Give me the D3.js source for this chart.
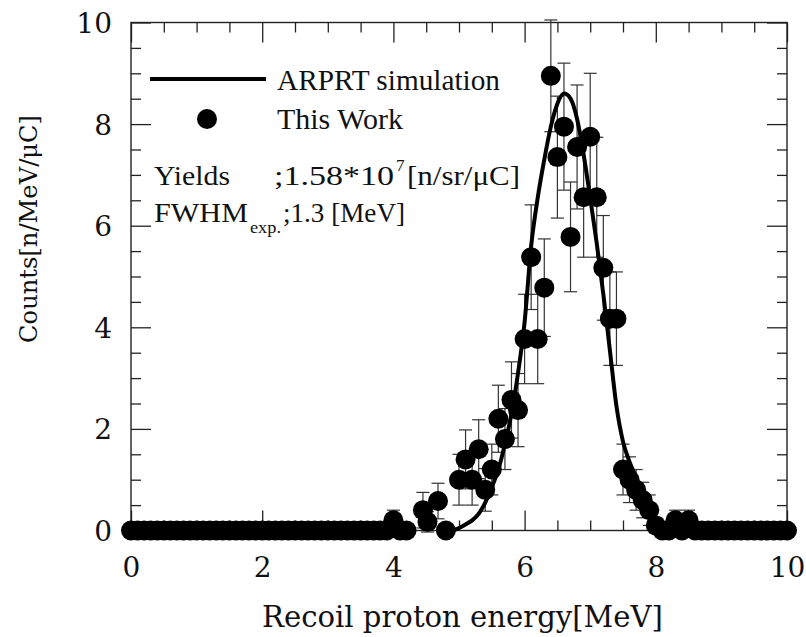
<!DOCTYPE html>
<html><head><meta charset="utf-8">
<script src="https://cdn.jsdelivr.net/npm/d3@7/dist/d3.min.js"></script>
<style>body{margin:0;background:#fff}svg{display:block}</style>
</head><body>
<svg id="c" width="806" height="637"></svg>
<script>
// ---- data ----
const energy = [0.0,0.1,0.2,0.3,0.4,0.5,0.6,0.7,0.8,0.9,1.0,1.1,1.2,1.3,1.4,1.5,1.6,1.7,1.8,1.9,
  2.0,2.1,2.2,2.3,2.4,2.5,2.6,2.7,2.8,2.9,3.0,3.1,3.2,3.3,3.4,3.5,3.6,3.7,3.8,3.9,
  4.0,4.1,4.2,4.45,4.52,4.68,4.8,5.0,5.1,5.2,5.3,5.4,5.5,5.6,5.7,5.8,5.9,
  6.0,6.1,6.2,6.3,6.4,6.5,6.6,6.7,6.8,6.9,7.0,7.1,7.2,7.3,7.4,7.5,7.6,7.7,7.8,7.9,
  8.0,8.1,8.2,8.3,8.4,8.5,8.6,8.7,8.8,8.9,9.0,9.1,9.2,9.3,9.4,9.5,9.6,9.7,9.8,9.9,10.0];
const counts = [0,0,0,0,0,0,0,0,0,0,0,0,0,0,0,0,0,0,0,0,
  0,0,0,0,0,0,0,0,0,0,0,0,0,0,0,0,0,0,0,0,
  0.2,0,0,0.4,0.17,0.58,0,1.0,1.4,1.0,1.6,0.8,1.2,2.2,1.8,2.57,2.37,
  3.77,5.38,3.77,4.78,8.95,7.35,7.95,5.78,7.55,6.56,7.75,6.56,5.17,4.17,4.17,1.2,1.0,0.8,0.6,0.4,
  0.1,0,0,0.2,0,0.2,0,0,0,0,0,0,0,0,0,0,0,0,0,0,0];
const errors = [0,0,0,0,0,0,0,0,0,0,0,0,0,0,0,0,0,0,0,0,
  0,0,0,0,0,0,0,0,0,0,0,0,0,0,0,0,0,0,0,0,
  0.2,0,0,0.35,0.2,0.35,0,0.5,0.58,0.5,0.58,0.42,0.5,0.66,0.6,0.75,0.72,
  0.88,1.03,0.88,0.96,1.1,1.2,1.25,1.08,1.22,1.18,1.25,1.18,1.03,0.92,0.92,0.5,0.45,0.4,0.35,0.3,
  0.15,0,0,0.2,0,0.2,0,0,0,0,0,0,0,0,0,0,0,0,0,0,0];

const simEnergy = [4.8,4.9,5.0,5.1,5.2,5.3,5.4,5.5,5.6,5.7,5.8,5.9,6.0,6.1,6.2,6.3,6.4,6.5,6.6,
  6.7,6.8,6.9,7.0,7.1,7.2,7.3,7.4,7.5,7.6,7.7,7.8,7.9,8.0,8.1];
const simCounts = [0,0,0.05,0.12,0.2,0.33,0.55,0.85,1.2,1.7,2.3,3.1,4.1,5.6,6.55,7.3,7.95,8.4,8.6,
  8.5,8.1,7.4,6.55,5.65,4.65,3.55,2.45,1.75,1.35,1.05,0.7,0.37,0.05,0];

const xMajor = [0,2,4,6,8,10];
const yMajor = [0,2,4,6,8,10];
const minorTicks = [0.5,1,1.5,2.5,3,3.5,4.5,5,5.5,6.5,7,7.5,8.5,9,9.5];

const xTitle = "Recoil proton energy[MeV]";
const yTitle = "Counts[n/MeV/\u03BCC]";
const legendLine = "ARPRT simulation";
const legendDots = "This Work";

// ---- layout ----
const L = 131, R = 787, T = 22.5, B = 530.5;
const svg = d3.select("#c");
const x = d3.scaleLinear().domain([0,10]).range([L,R]);
const y = d3.scaleLinear().domain([0,10]).range([B,T]);
const serif = "'DejaVu Serif', serif";
const times = "'Liberation Serif', 'Times New Roman', serif";
const axisCol = "#222";

function styleAxis(g){
  g.select(".domain").remove();
  g.selectAll("line").attr("stroke", axisCol).attr("stroke-width", 1.3);
}
// bottom
svg.append("g").attr("transform",`translate(0,${B})`)
  .call(d3.axisBottom(x).tickValues(minorTicks).tickSize(-10).tickFormat("")).call(styleAxis);
const gb = svg.append("g").attr("transform",`translate(0,${B})`)
  .call(d3.axisBottom(x).tickValues(xMajor).tickSize(-20).tickFormat(d3.format("d"))).call(styleAxis);
gb.selectAll("text").attr("y", 46).attr("dy", null).attr("font-family", serif)
  .attr("font-size", 28).attr("fill", "#111");
// top
svg.append("g").attr("transform",`translate(0,${T})`)
  .call(d3.axisTop(x).tickValues(minorTicks).tickSize(-10).tickFormat("")).call(styleAxis);
svg.append("g").attr("transform",`translate(0,${T})`)
  .call(d3.axisTop(x).tickValues(xMajor).tickSize(-20).tickFormat("")).call(styleAxis);
// left
svg.append("g").attr("transform",`translate(${L},0)`)
  .call(d3.axisLeft(y).tickValues(minorTicks).tickSize(-10).tickFormat("")).call(styleAxis);
const gl = svg.append("g").attr("transform",`translate(${L},0)`)
  .call(d3.axisLeft(y).tickValues(yMajor).tickSize(-20).tickFormat(d3.format("d"))).call(styleAxis);
gl.selectAll("text").attr("x", -19).attr("dy", "0.36em").attr("font-family", serif)
  .attr("font-size", 28).attr("fill", "#111");
// right
svg.append("g").attr("transform",`translate(${R},0)`)
  .call(d3.axisRight(y).tickValues(minorTicks).tickSize(-10).tickFormat("")).call(styleAxis);
svg.append("g").attr("transform",`translate(${R},0)`)
  .call(d3.axisRight(y).tickValues(yMajor).tickSize(-20).tickFormat("")).call(styleAxis);
// frame
svg.append("rect").attr("x",L).attr("y",T).attr("width",R-L).attr("height",B-T)
  .attr("fill","none").attr("stroke",axisCol).attr("stroke-width",1.4);

function fit(sel, w){
  const len = sel.node().getComputedTextLength();
  const fs = parseFloat(sel.attr("font-size"));
  sel.attr("font-size", fs*w/len);
}
// titles
const xt = svg.append("text").attr("x", 462.5).attr("y", 627).attr("text-anchor","middle")
  .attr("font-family", serif).attr("font-size", 30).attr("fill","#111").text(xTitle);
fit(xt, 401);
const yt = svg.append("text").attr("transform","translate(37,229) rotate(-90)").attr("text-anchor","middle")
  .attr("font-family", serif).attr("font-size", 28).attr("fill","#111").text(yTitle);
fit(yt, 228);

// data
const pts = energy.map((e,i)=>({e, v:counts[i], err:errors[i]}));
const eb = svg.append("g").attr("stroke","#333").attr("stroke-width",1.2);
pts.filter(d=>d.err>0).forEach(d=>{
  const cx = x(d.e);
  eb.append("line").attr("x1",cx).attr("x2",cx).attr("y1",y(d.v-d.err)).attr("y2",y(d.v+d.err));
  eb.append("line").attr("x1",cx-6.5).attr("x2",cx+6.5).attr("y1",y(d.v+d.err)).attr("y2",y(d.v+d.err));
  eb.append("line").attr("x1",cx-6.5).attr("x2",cx+6.5).attr("y1",y(d.v-d.err)).attr("y2",y(d.v-d.err));
});
svg.append("g").selectAll("circle").data(pts).join("circle")
  .attr("cx",d=>x(d.e)).attr("cy",d=>y(d.v)).attr("r",10).attr("fill","#000");

const sim = simEnergy.map((e,i)=>[e, simCounts[i]]);
svg.append("path").datum(sim)
  .attr("d", d3.line().x(d=>x(d[0])).y(d=>y(d[1])).curve(d3.curveMonotoneX))
  .attr("fill","none").attr("stroke","#000").attr("stroke-width",4).attr("stroke-linejoin","round");

// legend
svg.append("line").attr("x1",150).attr("x2",266).attr("y1",79).attr("y2",79)
  .attr("stroke","#000").attr("stroke-width",4);
svg.append("circle").attr("cx",207).attr("cy",119).attr("r",10).attr("fill","#000");
const t1 = svg.append("text").attr("x",277).attr("y",90).attr("font-family",times)
  .attr("font-size",29).attr("fill","#111").text(legendLine);
fit(t1, 223);
const t2 = svg.append("text").attr("x",277).attr("y",129).attr("font-family",times)
  .attr("font-size",29).attr("fill","#111").text(legendDots);
fit(t2, 126);

// annotations
const ann = svg.append("g").attr("font-family",times).attr("fill","#111");
ann.append("text").attr("x",154).attr("y",185).attr("font-size",28)
  .attr("textLength",76).attr("lengthAdjust","spacingAndGlyphs").text("Yields");
ann.append("text").attr("x",274).attr("y",185).attr("font-size",28)
  .attr("textLength",120).attr("lengthAdjust","spacingAndGlyphs").text(";1.58*10");
ann.append("text").attr("x",396).attr("y",171).attr("font-size",17).text("7");
ann.append("text").attr("x",407).attr("y",185).attr("font-size",28)
  .attr("textLength",113).attr("lengthAdjust","spacingAndGlyphs").text("[n/sr/\u03BCC]");
ann.append("text").attr("x",154).attr("y",222).attr("font-size",28)
  .attr("textLength",94).attr("lengthAdjust","spacingAndGlyphs").text("FWHM");
ann.append("text").attr("x",250).attr("y",233).attr("font-size",17)
  .attr("textLength",31).attr("lengthAdjust","spacingAndGlyphs").text("exp.");
ann.append("text").attr("x",283).attr("y",222).attr("font-size",28)
  .attr("textLength",122).attr("lengthAdjust","spacingAndGlyphs").text(";1.3 [MeV]");
</script>
</body></html>
